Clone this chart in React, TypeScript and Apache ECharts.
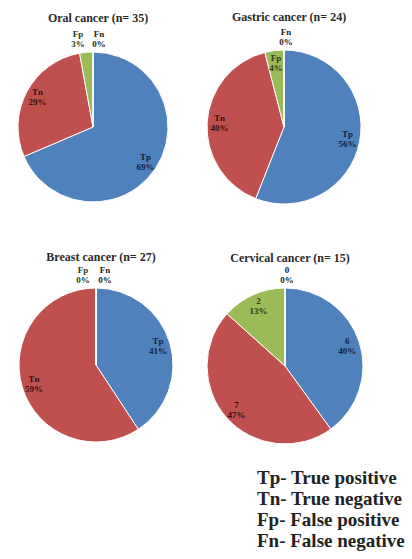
import React, { useEffect, useRef } from "react";
import * as echarts from "echarts";

const CATEGORIES = ["Tp", "Tn", "Fp", "Fn"];
const ORAL_VALUES = [24, 10, 1, 0];
const GASTRIC_VALUES = [56, 40, 4, 0];
const BREAST_VALUES = [11, 16, 0, 0];
const CERVICAL_VALUES = [6, 7, 2, 0];
const TITLES = [
  "Oral cancer (n= 35)",
  "Gastric cancer (n= 24)",
  "Breast cancer (n= 27)",
  "Cervical cancer (n= 15)",
];
const KEY_LINES = [
  "Tp- True positive",
  "Tn- True negative",
  "Fp- False positive",
  "Fn- False negative",
];

const COLORS = ["#4F81BD", "#C0504D", "#9BBB59", "#8064A2"];
const LABEL_COLORS = ["#15223d", "#3a0f0e", "#2b3a12", "#222"];
const FONT = "Liberation Serif";

const LAYOUT = [
  { cx: 93, cy: 127, r: 75, ty: 7, above: { 2: -15, 3: 6 } as Record<number, number>, valueLabel: false },
  { cx: 284, cy: 127, r: 77, ty: 6, above: { 3: 2 } as Record<number, number>, valueLabel: false },
  { cx: 96, cy: 365, r: 77, ty: 246, above: { 2: -13, 3: 9 } as Record<number, number>, valueLabel: false },
  { cx: 285, cy: 366, r: 78, ty: 247, above: { 3: 2 } as Record<number, number>, valueLabel: true },
];

const ALL_VALUES = [ORAL_VALUES, GASTRIC_VALUES, BREAST_VALUES, CERVICAL_VALUES];

export default function App() {
  const ref = useRef<HTMLDivElement>(null);
  useEffect(() => {
    if (!ref.current) return;
    const chart = echarts.init(ref.current, undefined, { renderer: "svg" });
    const series: any[] = [];
    const titles: any[] = [];
    ALL_VALUES.forEach((vals, k) => {
      const L = LAYOUT[k];
      titles.push({
        text: TITLES[k],
        left: L.cx,
        top: L.ty,
        textAlign: "center",
        textStyle: { fontFamily: FONT, fontSize: 12, fontWeight: "bold", color: "#2a2a2a" },
      });
      series.push({
        type: "pie",
        center: [L.cx, L.cy],
        radius: L.r,
        startAngle: 90,
        clockwise: true,
        silent: true,
        avoidLabelOverlap: false,
        label: { show: false },
        labelLine: { show: false },
        itemStyle: { borderColor: "#ffffff", borderWidth: 1 },
        data: vals.map((v, i) => ({ name: CATEGORIES[i], value: v, itemStyle: { color: COLORS[i] } })),
      });
      series.push({
        type: "pie",
        center: [L.cx, L.cy],
        radius: [L.r * 0.65, L.r * 0.95],
        startAngle: 90,
        clockwise: true,
        silent: true,
        avoidLabelOverlap: false,
        percentPrecision: 2,
        itemStyle: { color: "rgba(0,0,0,0)", borderWidth: 0 },
        labelLine: { show: false },
        label: {
          show: true,
          position: "inside",
          fontFamily: FONT,
          fontSize: 9,
          fontWeight: "bold",
          lineHeight: 10,
          formatter: (p: any) =>
            (L.valueLabel ? String(p.value) : p.name) + "\n" + Math.round(p.percent) + "%",
        },
        labelLayout: (params: any) => {
          const sx = L.above[params.dataIndex];
          if (sx === undefined) return {};
          return { x: L.cx + sx, y: L.cy - L.r - 13, align: "center", verticalAlign: "middle" };
        },
        data: vals.map((v, i) => ({
          name: CATEGORIES[i],
          value: v,
          label: { color: LABEL_COLORS[i] },
        })),
      });
    });
    titles.push({
      text: KEY_LINES.join("\n"),
      left: 252,
      top: 462,
      textStyle: { fontFamily: FONT, fontSize: 19, fontWeight: "bold", color: "#222", lineHeight: 21 },
    });
    chart.setOption({
      animation: false,
      backgroundColor: "#ffffff",
      title: titles,
      series,
    });
    return () => chart.dispose();
  }, []);
  return (
    <div
      ref={ref}
      style={{ position: "absolute", left: 0, top: 0, width: 412, height: 559 }}
    />
  );
}
